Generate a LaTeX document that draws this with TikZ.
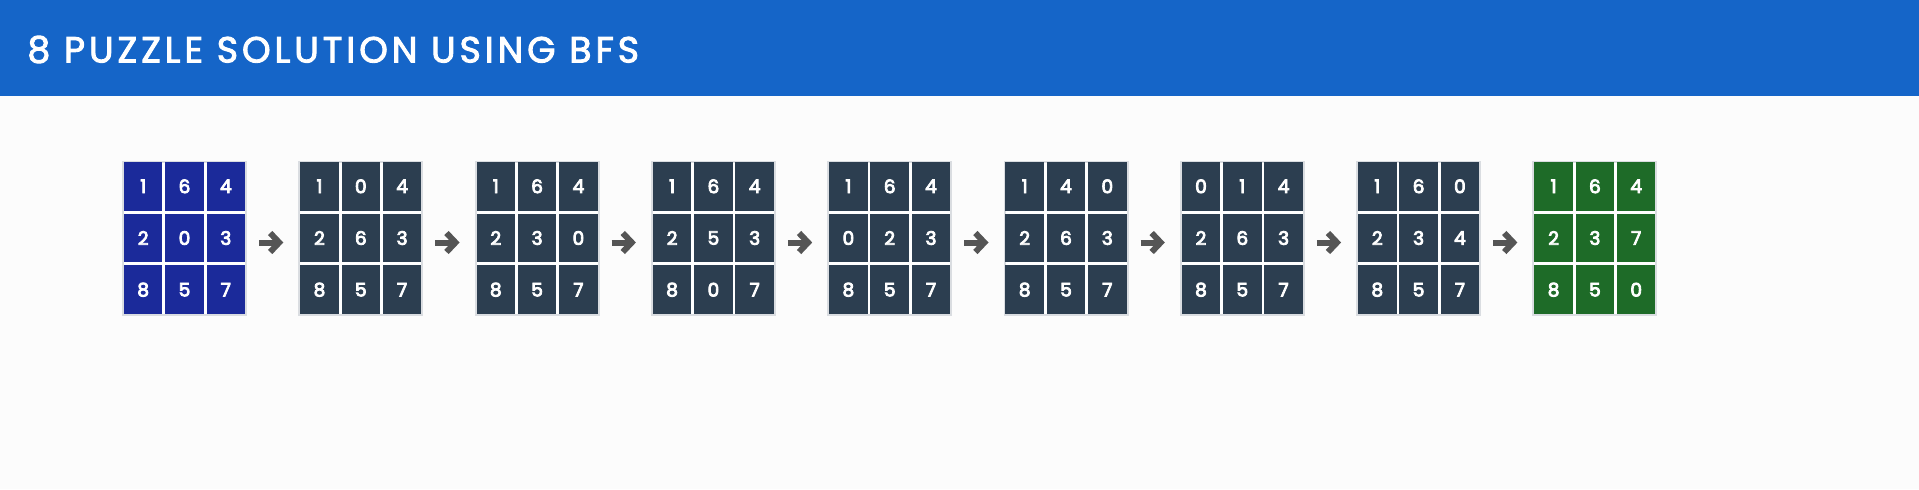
\documentclass[tikz,border=0pt]{standalone}
\usepackage{fontspec}
\setmainfont{Poppins}
\usetikzlibrary{arrows.meta}

\definecolor{headerblue}{HTML}{1565C8}
\definecolor{pagebg}{HTML}{FCFCFC}
\definecolor{startblue}{HTML}{1B2A9A}
\definecolor{stepslate}{HTML}{2C3E50}
\definecolor{goalgreen}{HTML}{1E6B28}
\definecolor{framegray}{HTML}{DADDE1}
\definecolor{arrowgray}{HTML}{555555}

\tikzset{
  board/.style={draw=framegray, line width=1pt, fill=white, minimum width=61.5pt, minimum height=76.5pt, inner sep=0pt},
  tile/.style={minimum width=19.25pt, minimum height=24.35pt, inner sep=0pt, text=white, font=\fontsize{9.3}{10}\selectfont\addfontfeatures{FakeBold=4.5}},
  movearrow/.style={arrowgray, line width=3pt, -{Straight Barb[length=4.5pt,width=9.5pt]}, shorten <=6pt, shorten >=7.5pt}
}

\begin{document}
\begin{tikzpicture}[x=0.5pt, y=-0.5pt]
    \useasboundingbox (0,0) rectangle (1919,489);
    \fill[pagebg] (0,0) rectangle (1919,489);

    % Header bar
    \fill[headerblue] (0,0) rectangle (1919,96);
    \node[anchor=west, inner sep=0pt, text=white, font=\fontsize{18.2}{20}\selectfont\addfontfeatures{FakeBold=2.5,LetterSpace=10.8}] (title) at (27,49.5) {8 PUZZLE SOLUTION USING BFS};

    % Boards: start, BFS steps, goal
    \foreach \k/\col/\digits in {
        1/startblue/{1,6,4,2,0,3,8,5,7},
        2/stepslate/{1,0,4,2,6,3,8,5,7},
        3/stepslate/{1,6,4,2,3,0,8,5,7},
        4/stepslate/{1,6,4,2,5,3,8,0,7},
        5/stepslate/{1,6,4,0,2,3,8,5,7},
        6/stepslate/{1,4,0,2,6,3,8,5,7},
        7/stepslate/{0,1,4,2,6,3,8,5,7},
        8/stepslate/{1,6,0,2,3,4,8,5,7},
        9/goalgreen/{1,6,4,2,3,7,8,5,0}} {
        \pgfmathsetmacro{\gx}{184.5 + 176.3*(\k-1)}
        \node[board] (g\k) at (\gx, 238) {};
        \foreach \v [count=\n from 0] in \digits {
            \pgfmathsetmacro{\tx}{\gx + 41.3*(mod(\n,3)-1)}
            \pgfmathsetmacro{\ty}{238 + 51.7*(int(\n/3)-1)}
            \node[tile, fill=\col] (g\k-\n) at (\tx, \ty) {\v};
        }
    }

    % Moves between boards
    \foreach \k [evaluate=\k as \nk using int(\k+1)] in {1,...,8}
        \draw[movearrow] ([yshift=-2.25pt]g\k.east) -- ([yshift=-2.25pt]g\nk.west);
\end{tikzpicture}
\end{document}
